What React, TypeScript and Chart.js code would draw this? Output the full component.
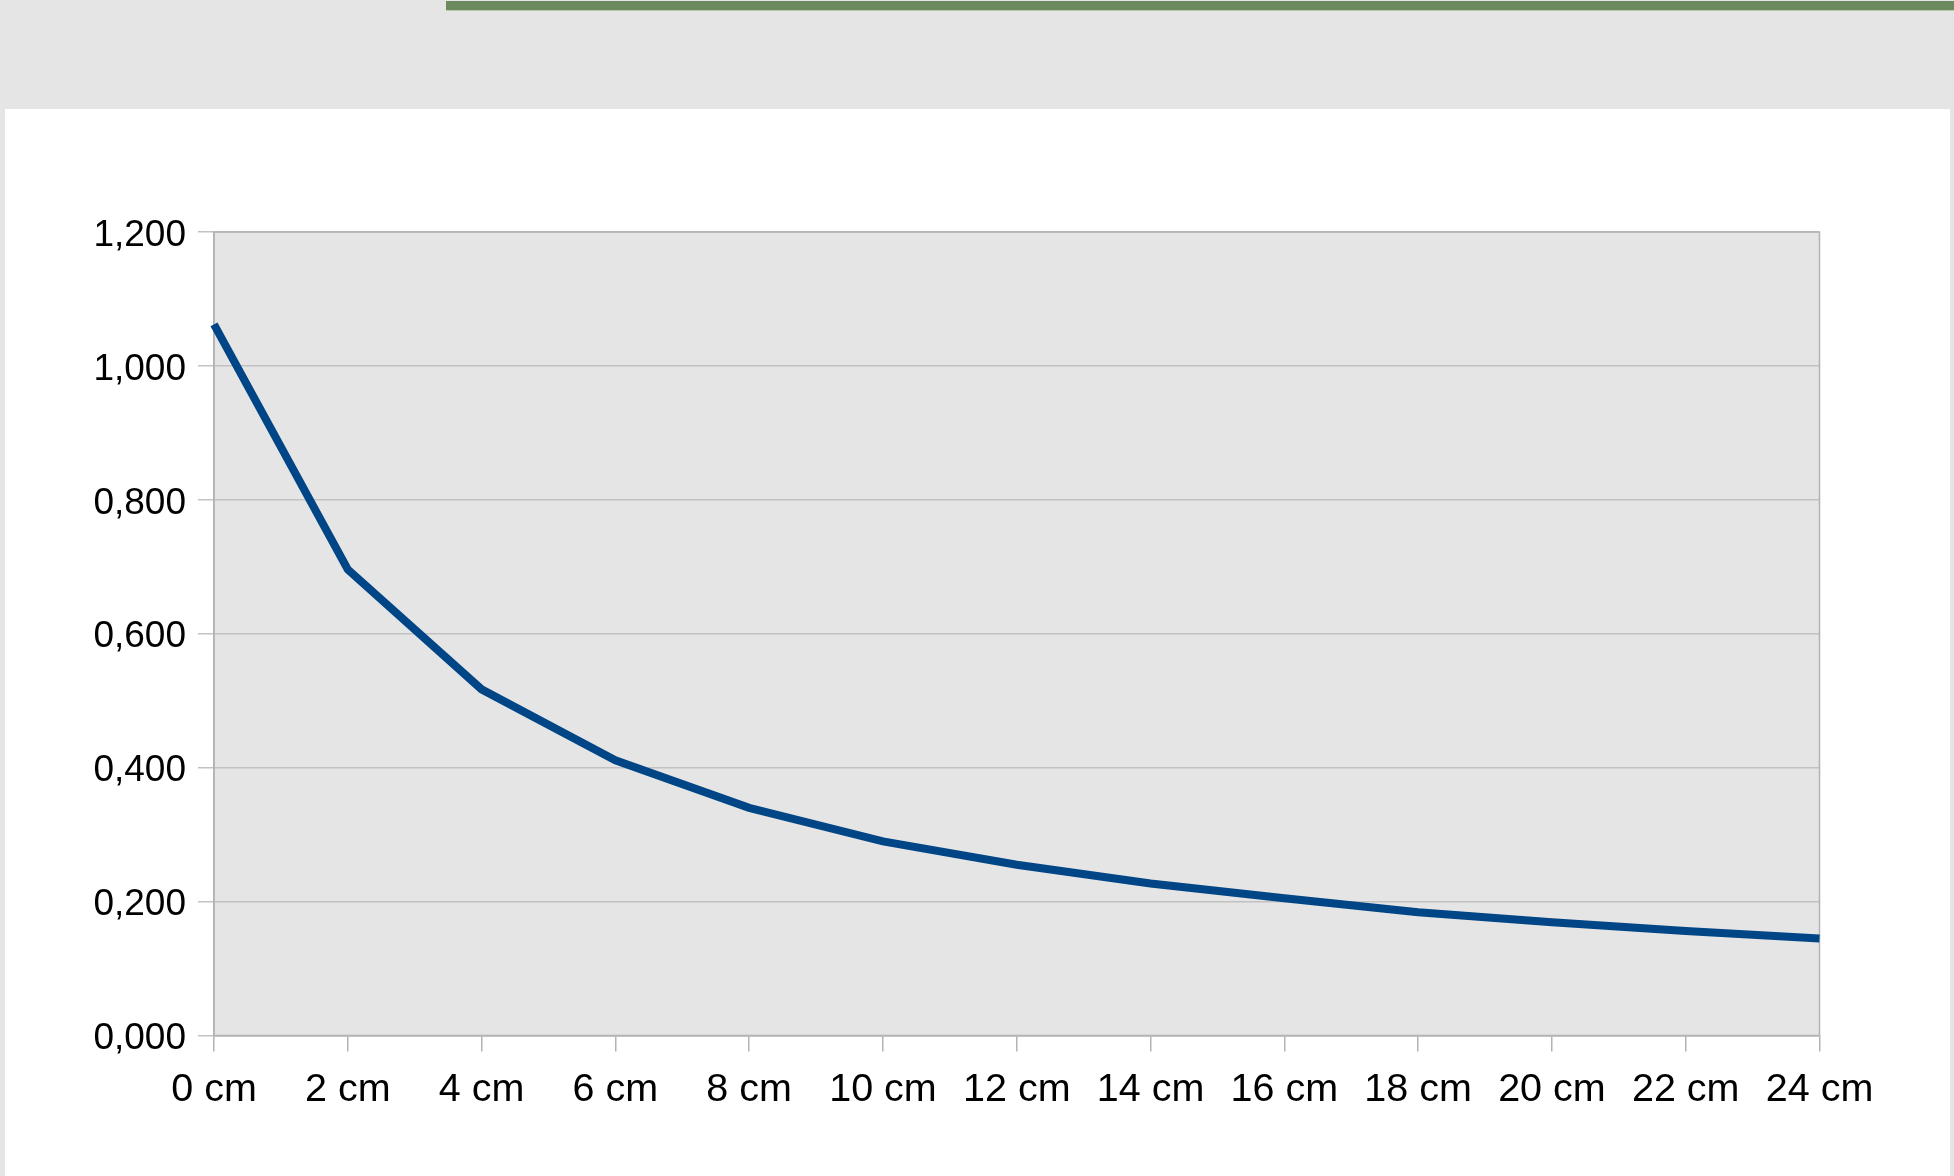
import React, { useEffect, useRef } from "react";
import { Chart, registerables } from "chart.js";

Chart.register(...registerables);

// Distance along the sample and the measured value at each point
const distances = [
  "0 cm", "2 cm", "4 cm", "6 cm", "8 cm", "10 cm", "12 cm",
  "14 cm", "16 cm", "18 cm", "20 cm", "22 cm", "24 cm",
];
const values = [
  1.062, 0.696, 0.517, 0.411, 0.34, 0.29, 0.255,
  0.227, 0.205, 0.184, 0.169, 0.156, 0.145,
];
const yMin = 0;
const yMax = 1.2;
const yStep = 0.2;

const W = 1954;
const H = 1176;
const GRAY = "#e5e5e5";
const GRID = "#c2c2c2";
const AXIS = "#b3b3b3";
const LINE = "#004586";
const FAMILY = "'Liberation Sans', Arial, sans-serif";

// Paints the plot area background and frames it on all four sides
const plotFrame = {
  id: "plotFrame",
  beforeDraw(chart: any) {
    const { ctx, chartArea: a } = chart;
    ctx.save();
    ctx.fillStyle = GRAY;
    ctx.fillRect(a.left, a.top, a.right - a.left, a.bottom - a.top);
    ctx.restore();
  },
  beforeDatasetsDraw(chart: any) {
    const { ctx, chartArea: a } = chart;
    ctx.save();
    ctx.strokeStyle = AXIS;
    ctx.lineWidth = 1.5;
    ctx.strokeRect(a.left, a.top, a.right - a.left, a.bottom - a.top);
    ctx.restore();
  },
};

export default function App() {
  const canvasRef = useRef<HTMLCanvasElement | null>(null);

  useEffect(() => {
    if (!canvasRef.current) return;
    const chart = new Chart(canvasRef.current, {
      type: "line",
      data: {
        labels: distances,
        datasets: [
          {
            data: values,
            borderColor: LINE,
            borderWidth: 8,
            borderCapStyle: "butt",
            borderJoinStyle: "miter",
            pointRadius: 0,
            pointHoverRadius: 0,
            tension: 0,
            fill: false,
          },
        ],
      },
      options: {
        animation: false,
        responsive: false,
        maintainAspectRatio: false,
        events: [],
        layout: { padding: { left: 0, top: 232, right: 134.5, bottom: 0 } },
        plugins: {
          legend: { display: false },
          tooltip: { enabled: false },
          title: { display: false },
        },
        scales: {
          x: {
            type: "category",
            offset: false,
            grid: {
              drawOnChartArea: false,
              drawTicks: true,
              tickLength: 16,
              color: AXIS,
              lineWidth: 1.5,
            },
            border: { display: true, color: AXIS, width: 1.5 },
            ticks: {
              color: "#000",
              font: { family: FAMILY, size: 39.5 },
              padding: 15,
              maxRotation: 0,
              autoSkip: false,
            },
            afterFit(scale: any) {
              scale.height = H - 1035.5;
            },
          },
          y: {
            min: yMin,
            max: yMax,
            grid: {
              drawOnChartArea: true,
              drawTicks: true,
              tickLength: 16,
              color: GRID,
              lineWidth: 1.5,
            },
            border: { display: true, color: AXIS, width: 1.5 },
            ticks: {
              stepSize: yStep,
              color: "#000",
              font: { family: FAMILY, size: 37 },
              padding: 12,
              labelOffset: 3.5,
              callback: (v: any) => Number(v).toFixed(3).replace(".", ","),
            },
            afterFit(scale: any) {
              scale.width = 214;
            },
          },
        },
      },
      plugins: [plotFrame],
    });
    return () => chart.destroy();
  }, []);

  return (
    <div
      style={{
        position: "fixed",
        left: 0,
        top: 0,
        width: W,
        height: H,
        background: GRAY,
        overflow: "hidden",
      }}
    >
      <div
        style={{
          position: "absolute",
          left: 446,
          top: 1,
          width: W - 446,
          height: 9,
          background: "#6c8a5d",
          borderBottom: "1px solid #b9c8ad",
        }}
      />
      <div
        style={{
          position: "absolute",
          left: 5,
          top: 109,
          width: 1945,
          height: H - 109,
          background: "#ffffff",
        }}
      />
      <canvas
        ref={canvasRef}
        width={W}
        height={H}
        style={{ position: "absolute", left: 0, top: 0, width: W, height: H }}
      />
    </div>
  );
}
